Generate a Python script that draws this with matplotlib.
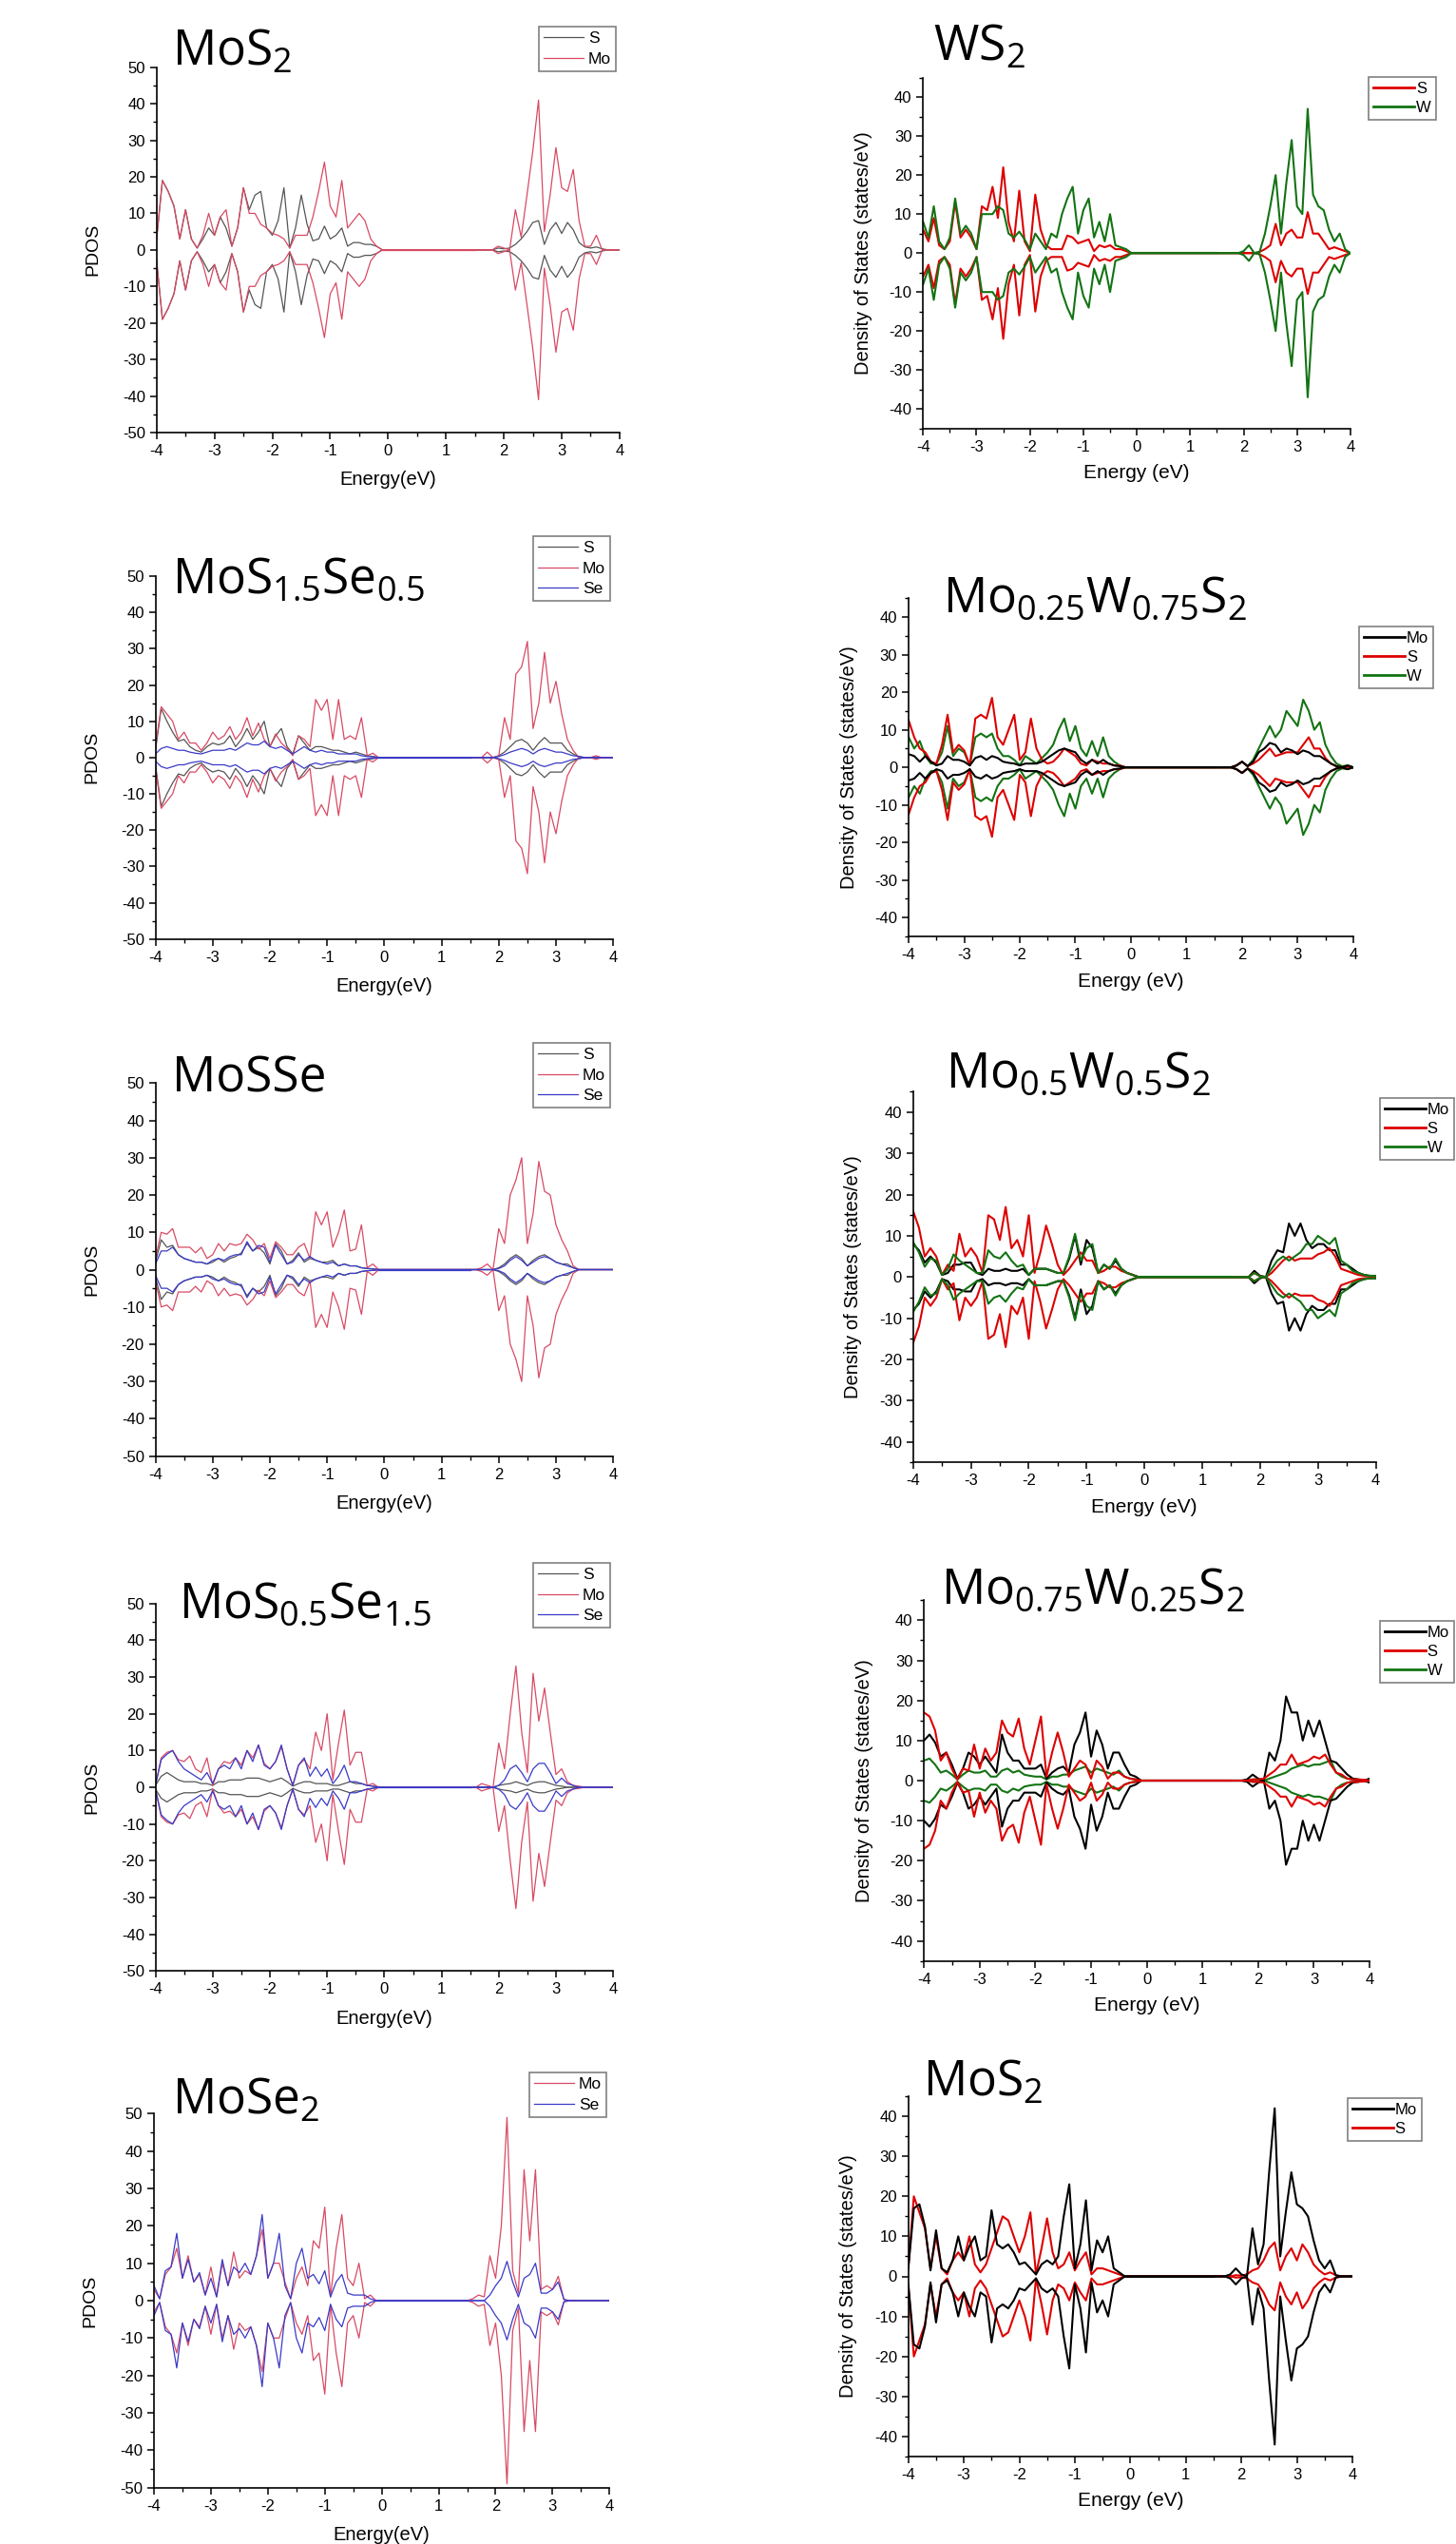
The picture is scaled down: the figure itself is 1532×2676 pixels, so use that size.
import matplotlib
matplotlib.use("Agg")
import matplotlib.pyplot as plt
from matplotlib.ticker import MultipleLocator
from matplotlib.lines import Line2D

W, H = 1532, 2676
plt.rcParams['font.family'] = ['Liberation Sans', 'DejaVu Sans']
plt.rcParams['mathtext.default'] = 'regular'
plt.rcParams['axes.unicode_minus'] = False

# ---------------- energy grid (eV) ----------------
energy_vb = [-4.0, -3.9, -3.8, -3.7, -3.6, -3.5, -3.4, -3.3, -3.2, -3.1,
             -3.0, -2.9, -2.8, -2.7, -2.6, -2.5, -2.4, -2.3, -2.2, -2.1,
             -2.0, -1.9, -1.8, -1.7, -1.6, -1.5, -1.4, -1.3, -1.2, -1.1,
             -1.0, -0.9, -0.8, -0.7, -0.6, -0.5, -0.4, -0.3, -0.2, -0.1]
energy_cb = [1.5, 1.6, 1.7, 1.8, 1.9, 2.0, 2.1, 2.2, 2.3, 2.4, 2.5, 2.6, 2.7,
             2.8, 2.9, 3.0, 3.1, 3.2, 3.3, 3.4, 3.5, 3.6, 3.7, 3.8, 3.9, 4.0]
energy = energy_vb + energy_cb

# ---------------- PDOS (spin-up; spin-down mirrored) ----------------
# Panel 1: MoS2 (left)
p1_S = [3, 19, 16, 12, 3, 11, 3, 0.5, 3, 6, 4, 9, 6, 1, 6, 17, 11, 15, 16, 6,
        4, 8, 17, 0.5, 6, 15, 7, 2.5, 3, 6.5, 3, 4, 6, 1, 2, 2, 1.5, 1.5, 1, 0,
        0, 0, 0, 0, 0.5, 0.3, 0.5, 1.5, 3, 5, 7.5, 8, 1.5, 5.5, 7.5, 4.5, 7.5, 5.5, 2, 0.8, 0.5, 0.8, 0.3, 0, 0, 0]
p1_Mo = [3, 19, 16, 12, 3, 11, 3, 0.5, 4, 10, 4, 9, 11, 1, 6, 17, 10, 10, 7, 6,
         4.5, 4, 3, 0.5, 4, 4, 4, 9, 16, 24, 12, 9, 19, 6, 8, 10, 8, 3, 1, 0,
         0, 0, 0, 0, 1, 0.5, 0, 11, 3.5, 15, 27, 41, 5, 15, 28, 17, 16, 22, 8, 1, 1, 4, 0, 0, 0, 0]

# Panel 2: WS2 (right)
p2_S = [6, 3, 9, 2, 1, 3, 13, 4, 6, 4, 1, 12, 11, 17, 9, 22, 8, 3, 16, 3,
        0.5, 15, 6, 2, 1, 1, 1, 4.5, 4, 2.5, 3, 3.5, 0.5, 2, 1.5, 2, 1, 1, 0.5, 0,
        0, 0, 0, 0, 0, 0, 0, 0, 0.3, 1, 2, 7.5, 2, 5, 6, 4, 4, 10.5, 5, 5, 3, 1, 1.5, 1, 0.5, 0]
p2_W = [8, 4, 12, 3, 1, 4, 14, 5, 7, 5, 1, 10, 10, 10, 12, 11, 5, 4, 5.5, 3.5,
        1, 5, 3, 1, 5, 4, 10, 14, 17, 5, 11, 14, 4, 8, 3, 10, 2, 1.5, 1, 0,
        0, 0, 0, 0, 0, 0.5, 2, 0, 0.3, 5, 12, 20, 5, 18, 29, 12, 10, 37, 15, 12, 11, 6, 3, 5, 1, 0]

# Panel 3: MoS1.5Se0.5 (left)
p3_S = [2, 13.5, 10, 7, 4.5, 5, 3, 2, 1.5, 3, 4, 3.5, 4, 6, 3, 5, 8, 5, 7, 10,
        3, 6, 8, 3, 1, 6, 4, 2, 3, 3, 2.5, 2, 2, 1.5, 1, 1.5, 1, 0.5, 0.3, 0,
        0, 0, 0, 0, 0, 0.5, 1.5, 3, 4.5, 5, 4, 2, 4, 5.5, 4, 4, 4, 2, 1, 0.3, 0, 0, 0, 0, 0, 0]
p3_Mo = [3, 14, 12, 10, 5, 7, 4, 4, 2, 4, 7, 5, 6, 8.5, 5, 7, 11, 6, 9.5, 5,
         3, 6.5, 4, 2.5, 0.5, 6, 5, 3, 16, 13, 16, 5, 16, 5, 6, 5, 11, 0.5, 1.2, 0,
         0, 0, 0, 1.5, 0, 0.5, 11, 5, 23, 25, 32, 8, 15, 29, 15, 21, 12, 5, 2, 0, 0, 0, 0.5, 0, 0, 0]
p3_Se = [1, 2.5, 3, 2.5, 2, 2, 1.5, 1.2, 1, 1.5, 2, 2, 2, 2.5, 2, 3, 4, 3.5, 3.5, 4.5,
         3, 2.5, 3, 2, 1, 2, 3, 2, 1.5, 2, 1.5, 1.5, 1, 1, 1, 1, 0.5, 0.3, 0.2, 0,
         0, 0, 0, 0, 0, 0.3, 0.8, 1.5, 2, 2.5, 2, 1, 2, 2.5, 2, 1.5, 1.5, 1, 0.5, 0.3, 0, 0, 0, 0, 0, 0]

# Panel 4: Mo0.25W0.75S2 (right)
p4_Mo = [3.5, 3, 1.5, 3, 1.5, 0.5, 1, 3, 2, 2, 1.5, 0.5, 2.5, 3, 2, 3, 2.5, 1.5, 1.2, 1,
         0.5, 1, 1, 1, 1.5, 2.5, 3.5, 4.5, 5, 4.5, 4, 2, 1, 2, 1, 2, 1, 0.5, 0.3, 0,
         0, 0, 0, 0, 0.5, 1.5, 0.3, 1.5, 4, 5, 6.5, 6, 4, 5, 4.5, 3.5, 4.5, 4, 3, 3, 2, 1, 0.3, 0, 0.5, 0]
p4_S = [12.5, 8, 5, 4, 1.5, 1, 6, 14, 4, 6, 4.5, 0.5, 13, 14, 13, 18.5, 8, 6, 10, 14,
        2, 4, 13, 5, 2, 1, 1.5, 3, 5, 4, 3, 1, 0.5, 2, 1.5, 1, 1, 0.5, 0.5, 0,
        0, 0, 0, 0, 0.5, 1.5, 0.3, 1, 2, 3.5, 5, 3, 3.5, 4, 4, 4, 6, 8, 5, 5, 2.5, 1, 0.3, 0, 0.3, 0]
p4_W = [8, 5, 7, 3, 1, 1, 4, 11, 3, 5, 4, 0.5, 8, 9, 8, 9, 5, 3, 3, 2,
        0.5, 3, 2, 1, 2.5, 4, 6, 10, 13, 7, 11, 5, 3, 7, 3, 8, 3, 1.5, 0.5, 0,
        0, 0, 0, 0, 0.5, 1.5, 0.3, 2, 5, 8, 11, 8, 10, 15, 13, 11, 18, 15, 10, 12, 6, 3, 1, 0.3, 0.5, 0]

# Panel 5: MoSSe (left)
p5_S = [2, 8, 6, 6.5, 4, 3, 2.5, 2, 2, 1.5, 2, 3, 2, 3, 3.5, 4.5, 7, 5, 6, 4.5,
        1.5, 7, 5, 1.5, 2.5, 4.5, 2, 3, 2.5, 2, 2, 2.5, 1, 1.5, 1, 1, 0.5, 0.3, 0.2, 0,
        0, 0, 0, 0, 0, 0.5, 1.5, 3, 4, 3, 1, 2.5, 3.5, 4, 3, 2, 1.5, 1.5, 0.5, 0, 0, 0, 0, 0, 0, 0]
p5_Mo = [3, 10, 9.5, 11, 6, 6, 6, 4.5, 6, 3, 4, 7, 5, 7, 6.5, 7, 9.5, 8, 5.5, 7,
         3, 7.5, 6, 4, 4, 6, 7, 3, 15.5, 12, 15.5, 6, 10, 16, 5, 5.5, 12, 0.5, 1.5, 0,
         0, 0, 0.5, 1.5, 0, 11, 7, 20, 24, 30, 7, 15, 29, 21, 20, 12, 8, 5, 1, 0, 0, 0, 0, 0, 0, 0]
p5_Se = [1.5, 5, 5, 6, 4, 3, 2.5, 2, 2, 1.5, 2.5, 3, 2.5, 3.5, 4, 4, 7.5, 5, 6.5, 6,
         2, 6.5, 4, 1.5, 2, 4, 2.5, 3.5, 2.5, 2, 1.5, 2, 1, 1.5, 1, 1, 0.5, 0.3, 0.2, 0,
         0, 0, 0, 0, 0, 0.3, 1, 2.5, 3.5, 2.5, 1, 2, 3, 3.5, 3, 2, 1.5, 1, 0.5, 0, 0, 0, 0, 0, 0, 0]

# Panel 6: Mo0.5W0.5S2 (right)
p6_Mo = [8, 6.5, 3.5, 5, 3.5, 0.5, 1, 3, 3, 3.5, 3.5, 1, 0.5, 2, 1.5, 1.5, 2, 1.5, 1.5, 2,
         0.5, 2, 2, 2, 1.5, 1, 1, 4.5, 10, 3, 9, 7, 1, 3, 2, 4, 2, 1, 0.5, 0,
         0, 0, 0, 0, 1.5, 0.3, 0, 4, 6.5, 6, 13, 10, 13, 9, 7, 8, 8, 6.5, 6.5, 3, 3, 2, 1, 0.5, 0.3, 0.3]
p6_S = [16, 12, 5, 7, 5, 0.5, 3, 1.5, 10.5, 5, 7, 5, 1, 15, 14, 9, 17, 7, 9, 5,
        15, 1, 6, 12.5, 8, 3, 0.5, 2, 4, 6, 4, 4, 1, 1.5, 2.5, 2.5, 1.5, 1, 0.5, 0,
        0, 0, 0, 0, 1, 0.2, 0, 1, 2.5, 4, 5, 4, 4.5, 4.5, 4.5, 5.5, 6, 7, 5, 2, 1.5, 1, 0.5, 0.3, 0.2, 0]
p6_W = [8.5, 6, 2.5, 4.5, 4, 0.5, 2, 5.5, 4, 3, 2, 1, 1, 6.5, 5, 4.5, 6, 4, 2.5, 3,
        0.5, 2, 2, 2, 1.5, 1, 1, 5, 10.5, 4, 7, 8, 1, 3, 2, 4.5, 2, 1, 0.5, 0,
        0, 0, 0, 0, 1, 0.2, 0, 2, 4, 5, 4, 5, 6, 8, 8, 10, 9, 8, 9.5, 4, 3, 1.5, 1, 0.5, 0.3, 0.3]

# Panel 7: MoS0.5Se1.5 (left)
p7_S = [0.5, 3, 4, 3, 2, 1.5, 1.5, 1.5, 1, 1, 0.5, 1.5, 1.5, 2, 2, 2, 2.5, 2.5, 2.5, 2,
        1.5, 2, 2.5, 1.5, 0.3, 1, 1.5, 1.5, 1, 1, 1, 0.5, 0.5, 1, 1.5, 1, 1, 0.5, 0.3, 0,
        0, 0, 0, 0, 0, 0.5, 0.8, 1, 1.5, 1, 0.5, 1.2, 1.5, 1.5, 1, 0.5, 0.3, 0, 0, 0, 0, 0, 0, 0, 0, 0]
p7_Mo = [0.5, 8, 9.5, 10, 7.5, 7, 8.5, 5, 4, 8, 0.5, 5, 7, 6.5, 8, 6, 10, 8, 11.5, 6.5,
         5, 7, 11, 5, 0.5, 6, 7.5, 5, 15, 10, 20, 2, 12, 21, 6, 9.5, 9.5, 0.5, 1, 0,
         0, 0, 1, 0.5, 0, 12, 5, 20, 33, 15, 4, 31, 18, 27, 15, 3.5, 5, 1.5, 0.5, 0.3, 0, 0, 0, 0, 0, 0]
p7_Se = [0.5, 7.5, 9, 10, 7, 5, 4, 3, 2, 4, 1, 5, 6, 5, 8, 5, 10, 7, 11.5, 6,
         5, 7, 11.5, 5, 0.5, 6, 8, 3, 5.5, 3, 5, 1, 3, 6, 1.5, 1.5, 1, 0.5, 0.3, 0,
         0, 0, 0, 0, 0, 0.5, 2, 5, 6, 4, 1.5, 5, 6.5, 6.5, 4, 1, 2.5, 1, 0.5, 0, 0, 0, 0, 0, 0, 0]

# Panel 8: Mo0.75W0.25S2 (right)
p8_Mo = [10, 11.5, 9.5, 6, 7, 4, 0.5, 3, 7, 6, 4, 6, 4, 2, 11.5, 7, 5, 5, 3, 3,
         3, 4, 0.5, 2, 3, 3.5, 2, 9, 12, 17, 6, 12.5, 9, 3, 7, 7, 4, 1.5, 1, 0,
         0, 0, 0, 0.3, 1.5, 0.5, 0, 7, 5, 10, 21, 17, 17, 10, 15, 11, 15, 10, 5, 4.5, 3, 1.5, 0.5, 0.3, 0, 0.5]
p8_S = [17, 16, 12.5, 5, 7, 3, 0.3, 3, 2.5, 9, 3, 8, 5, 7, 15, 12, 11, 15.5, 8, 4,
        10, 16, 1, 7, 12, 7, 1, 3, 5, 4, 0.5, 5, 3.5, 0.5, 2, 2, 1, 0.5, 0.3, 0,
        0, 0, 0, 0, 0.3, 0.3, 0.5, 1.5, 2.5, 4, 4, 6.5, 4, 4.5, 5, 6, 5.5, 6.5, 4, 2, 1.5, 0.5, 0.3, 0.3, 0.2, 0]
p8_W = [5, 5.5, 4, 2, 2.5, 1.5, 0.3, 1.5, 2.5, 2, 2, 2.5, 1, 1, 2.5, 3, 2, 2.5, 1.5, 1.2,
        1, 1, 0.3, 1, 1, 1.5, 1.5, 2.5, 3, 3.5, 2, 3, 2.5, 2, 1.5, 2.5, 1, 0.5, 0.3, 0,
        0, 0, 0, 0, 0.3, 0.3, 0, 0.5, 1, 1.5, 2, 3, 3.5, 4, 3.5, 4, 4, 4.5, 5, 2, 1, 0.5, 0.3, 0.2, 0, 0]

# Panel 9: MoSe2 (left)
p9_Mo = [3, 0.5, 7, 9, 14, 6, 12, 5, 7, 1.5, 9, 1, 10, 4, 13, 6, 8, 7, 12, 19,
         6, 10, 10, 5, 0.5, 6, 9, 4, 16, 14, 25, 1, 14, 23, 6, 4, 10, 0.5, 1.5, 0,
         0, 0.5, 1.5, 1, 12, 6, 20, 49, 8, 2, 35, 16, 35, 3, 4, 3, 6.5, 0.3, 0, 0, 0, 0, 0, 0, 0, 0]
p9_Se = [4, 0.5, 8, 9, 18, 6, 11, 5, 7.5, 1.5, 6, 1, 11, 4, 9, 7.5, 10, 7, 12, 23,
         6, 10, 18, 4, 0.5, 10, 14, 6, 7, 4.5, 8, 1, 5, 7, 2, 1.5, 1.5, 1.5, 0.5, 0,
         0, 0, 0, 0, 1.5, 4, 6, 10.5, 5, 1, 6, 7, 10, 2, 2, 3, 5, 0.3, 0, 0, 0, 0, 0, 0, 0, 0]

# Panel 10: MoS2 (right)
p10_Mo = [2, 17, 18, 12.5, 1.5, 11.5, 2, 1, 4, 10, 4, 7.5, 10, 4, 5, 16.5, 8, 7, 8, 6,
          3, 3.5, 2, 0.5, 3, 4, 3, 5, 15, 23, 2, 8, 19, 1.5, 9, 6, 10, 2, 1, 0,
          0, 0, 0, 0.5, 2, 0.5, 0, 12, 3, 8, 26, 42, 5, 16, 26, 18, 17, 15, 9, 4, 2, 4, 0.3, 0, 0, 0]
p10_S = [2, 20, 16, 12, 2, 10, 2, 0.5, 4, 6, 4, 10, 3, 1, 3, 7, 11, 15, 14, 10,
         6, 10, 16, 0.5, 7, 14.5, 6, 2, 3, 6, 1.5, 4, 6, 0.5, 2, 2, 1.5, 1, 0.5, 0,
         0, 0, 0, 0, 0.3, 0.2, 0.5, 1.5, 2, 4, 7, 8.5, 1.5, 5, 7, 4, 8, 6, 3, 1.5, 0.5, 1, 0.3, 0, 0, 0]

titles = ['MoS$_2$', 'WS$_2$', 'MoS$_{1.5}$Se$_{0.5}$', 'Mo$_{0.25}$W$_{0.75}$S$_2$',
          'MoSSe', 'Mo$_{0.5}$W$_{0.5}$S$_2$', 'MoS$_{0.5}$Se$_{1.5}$',
          'Mo$_{0.75}$W$_{0.25}$S$_2$', 'MoSe$_2$', 'MoS$_2$']

# ---------------- styles ----------------
C_L = {'S': '#555555', 'Mo': '#d84a64', 'Se': '#3a3ac8'}
C_R = {'S': '#dd0000', 'W': '#137313', 'Mo': '#000000'}

panels = [
    dict(side='L', box=(164.8, 651.9, 70.7, 455.0), tpos=(180.6, 68.3), lpos=(567, 28),
         draw=[('S', p1_S), ('Mo', p1_Mo)], leg=['S', 'Mo']),
    dict(side='R', box=(971.3, 1420.9, 81.7, 450.7), tpos=(981.9, 63.3), lpos=(1440, 80.7),
         draw=[('S', p2_S), ('W', p2_W)], leg=['S', 'W']),
    dict(side='L', box=(163.6, 645.2, 606.0, 987.7), tpos=(180.6, 623.3), lpos=(561, 564),
         draw=[('S', p3_S), ('Mo', p3_Mo), ('Se', p3_Se)], leg=['S', 'Mo', 'Se']),
    dict(side='R', box=(956.1, 1423.8, 629.3, 985.0), tpos=(992.4, 644.0), lpos=(1430, 659),
         draw=[('W', p4_W), ('S', p4_S), ('Mo', p4_Mo)], leg=['Mo', 'S', 'W']),
    dict(side='L', box=(163.6, 645.2, 1139.3, 1531.7), tpos=(180.6, 1148.3), lpos=(561, 1097),
         draw=[('S', p5_S), ('Mo', p5_Mo), ('Se', p5_Se)], leg=['S', 'Mo', 'Se']),
    dict(side='R', box=(960.8, 1447.5, 1148.3, 1538.3), tpos=(994.5, 1143.3), lpos=(1451.7, 1155),
         draw=[('Mo', p6_Mo), ('S', p6_S), ('W', p6_W)], leg=['Mo', 'S', 'W']),
    dict(side='L', box=(163.6, 645.2, 1686.7, 2073.3), tpos=(188.5, 1701.7), lpos=(561, 1644),
         draw=[('S', p7_S), ('Mo', p7_Mo), ('Se', p7_Se)], leg=['S', 'Mo', 'Se']),
    dict(side='R', box=(972.2, 1441.1, 1683.3, 2062.7), tpos=(989.5, 1686.7), lpos=(1451.7, 1705),
         draw=[('W', p8_W), ('Mo', p8_Mo), ('S', p8_S)], leg=['Mo', 'S', 'W']),
    dict(side='L', box=(162.0, 641.3, 2223.3, 2616.7), tpos=(180.6, 2224.0), lpos=(557, 2180),
         draw=[('Mo', p9_Mo), ('Se', p9_Se)], leg=['Mo', 'Se']),
    dict(side='R', box=(955.7, 1423.0, 2205.0, 2584.0), tpos=(971.3, 2205.0), lpos=(1417.5, 2206.7),
         draw=[('S', p10_S), ('Mo', p10_Mo)], leg=['Mo', 'S']),
]

fig = plt.figure(figsize=(W / 100, H / 100), dpi=100)
fig.patch.set_facecolor('white')

for title, p in zip(titles, panels):
    x0, x1, yt, yb = p['box']
    ax = fig.add_axes([x0 / W, 1 - yb / H, (x1 - x0) / W, (yb - yt) / H])
    left = p['side'] == 'L'
    colors = C_L if left else C_R
    lw = 0.9 if left else 1.5
    for lab, data in p['draw']:
        up = list(data)
        down = [-v for v in data]
        ax.plot(energy, up, color=colors[lab], lw=lw)
        ax.plot(energy, down, color=colors[lab], lw=lw)
    ax.plot([-0.1, 1.5], [0, 0], color=colors[p['draw'][-1][0]], lw=lw)
    if left:
        ax.set_ylim(-50, 50)
        ax.set_ylabel('PDOS', fontsize=14, va='center')
        ax.set_xlabel('Energy(eV)', fontsize=14.5, va='center')
        ylab_off, xlab_off = 67, 50
    else:
        ax.set_ylim(-45, 45)
        ax.set_ylabel('Density of States (states/eV)', fontsize=14.5, va='center')
        ax.set_xlabel('Energy (eV)', fontsize=15, va='center')
        ylab_off, xlab_off = 63, 47
    ax.yaxis.set_major_locator(MultipleLocator(10))
    ax.yaxis.set_minor_locator(MultipleLocator(5))
    ax.set_xlim(-4, 4)
    ax.xaxis.set_major_locator(MultipleLocator(1))
    ax.xaxis.set_minor_locator(MultipleLocator(0.5))
    ax.yaxis.set_label_coords(-ylab_off / (x1 - x0), 0.5)
    ax.xaxis.set_label_coords(0.5, -xlab_off / (yb - yt))
    for s in ('top', 'right'):
        ax.spines[s].set_visible(False)
    for s in ('left', 'bottom'):
        ax.spines[s].set_linewidth(1.2)
    ax.tick_params(which='major', direction='out', length=5, width=1.1, labelsize=12)
    ax.tick_params(which='minor', direction='out', length=3, width=1.0)
    ax.patch.set_alpha(0)

    fig.text(p['tpos'][0] / W, 1 - p['tpos'][1] / H, title, fontsize=37,
             family=['Open Sans', 'DejaVu Sans'], ha='left', va='baseline')

    handles = [Line2D([], [], color=colors[l], lw=lw if left else 2.0) for l in p['leg']]
    leg = ax.legend(handles, p['leg'], loc='upper left',
                    bbox_to_anchor=(p['lpos'][0] / W, 1 - p['lpos'][1] / H),
                    bbox_transform=fig.transFigure, borderaxespad=0,
                    fancybox=False, framealpha=1, edgecolor='#808080',
                    fontsize=12.5 if left else 12, handlelength=2.4 if left else 2.6,
                    handletextpad=0.3 if left else 0.1, labelspacing=0.35 if left else 0.3,
                    borderpad=0.3)
    leg.get_frame().set_linewidth(1.2)

fig.savefig('out.png', dpi=100, facecolor='white')
